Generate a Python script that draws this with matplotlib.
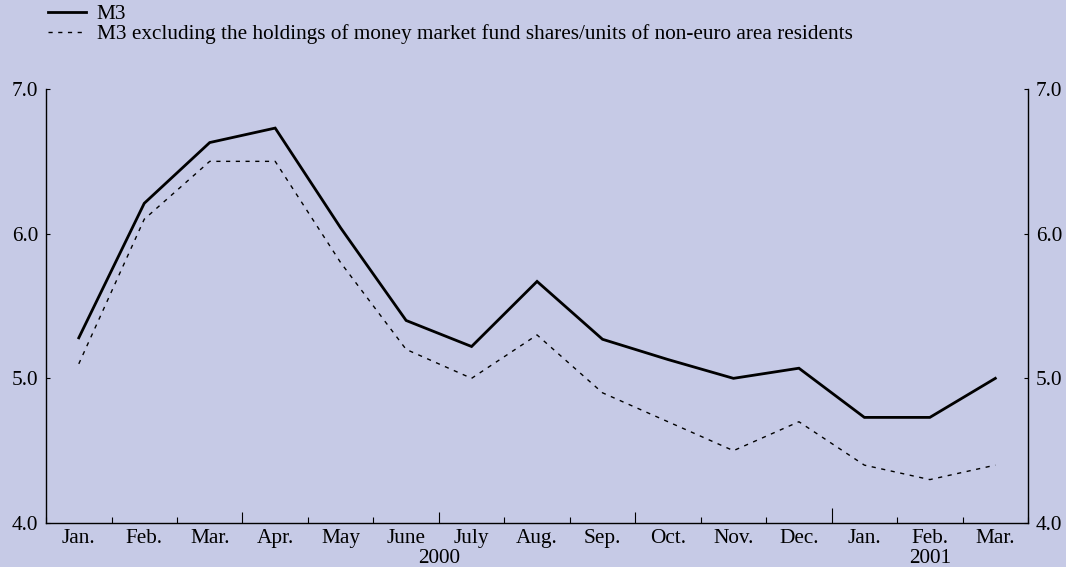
import matplotlib
matplotlib.use("Agg")
import matplotlib.pyplot as plt
from matplotlib.lines import Line2D
import numpy as np

plt.rcParams.update({
    "font.family": "serif",
    "font.serif": ["Liberation Serif", "DejaVu Serif"],
    "font.size": 15.3,
})

BG = "#c6cae6"

months = ["Jan.", "Feb.", "Mar.", "Apr.", "May", "June", "July", "Aug.",
          "Sep.", "Oct.", "Nov.", "Dec.", "Jan.", "Feb.", "Mar."]
years = ["2000", "2001"]
m3 = [5.28, 6.21, 6.63, 6.73, 6.04, 5.40, 5.22, 5.67,
      5.27, 5.13, 5.00, 5.07, 4.73, 4.73, 5.00]
m3_excl = [5.1, 6.1, 6.5, 6.5, 5.8, 5.2, 5.0, 5.3,
           4.9, 4.7, 4.5, 4.7, 4.4, 4.3, 4.4]
yticks = [4.0, 5.0, 6.0, 7.0]

fig = plt.figure(figsize=(10.66, 5.67), dpi=100, facecolor=BG)
ax = fig.add_axes([0.0432, 0.0776, 0.9212, 0.7654])
ax.set_facecolor(BG)

x = np.arange(len(months))
ax.plot(x, m3, color="black", linewidth=2.0, solid_joinstyle="miter")
ax.plot(x, m3_excl, color="black", linewidth=1.0, linestyle=(0, (3, 4)))

ax.set_xlim(-0.5, len(months) - 0.5)
ax.set_ylim(4.0, 7.0)

ax.spines["top"].set_visible(False)
for s in ["left", "right", "bottom"]:
    ax.spines[s].set_linewidth(1.0)
    ax.spines[s].set_color("black")

# y axis on both sides
ax.set_yticks(yticks)
ax.set_yticklabels([f"{v:.1f}" for v in yticks])
ax.tick_params(axis="y", direction="in", length=3, width=0.8,
               left=True, right=True, labelleft=True, labelright=True, pad=5.5)

# x ticks at month boundaries, taller at quarters and year end
bounds = np.arange(-0.5, len(months), 1.0)
ax.set_xticks(bounds)
ax.set_xticklabels([])
ax.tick_params(axis="x", direction="in", length=4, width=0.8)
for i, t in enumerate(ax.xaxis.get_major_ticks()):
    if i == 12:
        t.tick1line.set_markersize(11)
    elif i % 3 == 0 and i not in (0, 15):
        t.tick1line.set_markersize(8)

for xi, lab in zip(x, months):
    ax.text(xi, -0.014, lab, transform=ax.get_xaxis_transform(),
            ha="center", va="top")
ax.text(5.5, -0.060, years[0], transform=ax.get_xaxis_transform(),
        ha="center", va="top")
ax.text(13, -0.060, years[1], transform=ax.get_xaxis_transform(),
        ha="center", va="top")

handles = [Line2D([], [], color="black", linewidth=2.0),
           Line2D([], [], color="black", linewidth=1.0, linestyle=(0, (3, 4)))]
labels = ["M3",
          "M3 excluding the holdings of money market fund shares/units of non-euro area residents"]
fig.legend(handles, labels, loc="upper left", bbox_to_anchor=(0.043, 0.996),
           frameon=False, handlelength=1.8, handletextpad=0.5,
           labelspacing=0.0, borderaxespad=0.0, borderpad=0.1)

fig.savefig("out.png", dpi=100, facecolor=BG)
